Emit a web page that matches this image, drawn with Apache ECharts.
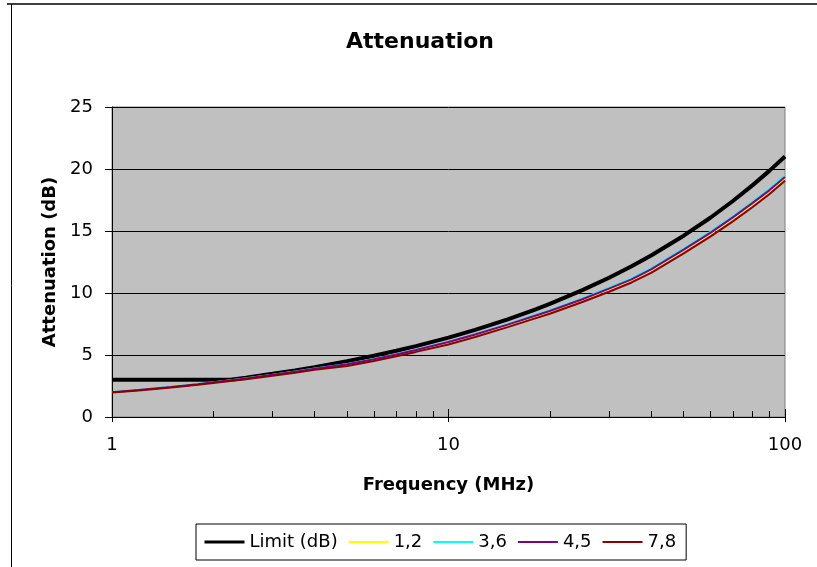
<!DOCTYPE html>
<html>
<head>
<meta charset="utf-8">
<script src="https://cdn.jsdelivr.net/npm/echarts@6/dist/echarts.min.js"></script>
<style>
  html, body { margin: 0; padding: 0; background: #fff; }
  #chart { width: 817px; height: 567px; }
</style>
</head>
<body>
<div id="chart"></div>
<script>
// frequencies (MHz)
var freqs = [1, 1.2, 1.5, 1.8, 2, 2.25, 2.5, 3, 3.5, 4, 5, 6, 7, 8, 10, 12, 15, 18, 20, 25, 30, 35, 40, 50, 60, 70, 80, 90, 100];

// attenuation (dB)
var limitDb = [3, 3, 3, 3, 3, 3.0, 3.17, 3.48, 3.76, 4.02, 4.5, 4.94, 5.34, 5.72, 6.4, 7.03, 7.87, 8.64, 9.12, 10.23, 11.23, 12.16, 13.03, 14.62, 16.07, 17.42, 18.68, 19.87, 21.0];
var pair12 = [1.99, 2.16, 2.4, 2.63, 2.78, 2.94, 3.09, 3.38, 3.64, 3.88, 4.22, 4.63, 5.01, 5.37, 6.02, 6.61, 7.41, 8.1, 8.5, 9.45, 10.3, 11.05, 11.84, 13.43, 14.78, 16.02, 17.17, 18.22, 19.27];
var pair36 = [2.01, 2.18, 2.43, 2.66, 2.81, 2.97, 3.12, 3.41, 3.67, 3.92, 4.27, 4.68, 5.06, 5.42, 6.08, 6.68, 7.49, 8.2, 8.6, 9.56, 10.42, 11.18, 11.98, 13.58, 14.93, 16.18, 17.34, 18.4, 19.45];
var pair45 = [2.0, 2.17, 2.42, 2.65, 2.8, 2.96, 3.11, 3.4, 3.66, 3.9, 4.25, 4.66, 5.04, 5.4, 6.05, 6.65, 7.45, 8.15, 8.55, 9.5, 10.35, 11.1, 11.9, 13.5, 14.85, 16.1, 17.25, 18.3, 19.35];
var pair78 = [1.97, 2.13, 2.37, 2.6, 2.74, 2.9, 3.04, 3.32, 3.57, 3.8, 4.12, 4.52, 4.9, 5.25, 5.85, 6.45, 7.25, 7.93, 8.33, 9.27, 10.1, 10.85, 11.62, 13.2, 14.55, 15.78, 16.92, 17.98, 19.05];

var seriesNames = ['Limit (dB)', '1,2', '3,6', '4,5', '7,8'];
var seriesValues = [limitDb, pair12, pair36, pair45, pair78];
var seriesColors = ['#000000', '#FFFF00', '#00FFFF', '#800080', '#8B0000'];
var seriesWidths = [4, 2, 2, 2, 2];
var legendWidths = [3, 2, 2, 2, 2];

function pairs(vals) {
  return freqs.map(function (f, i) { return [f, vals[i]]; });
}

var myChart = echarts.init(document.getElementById('chart'));

var series = seriesNames.map(function (name, i) {
  return {
    name: name,
    type: 'line',
    xAxisIndex: 0,
    symbol: 'none',
    data: pairs(seriesValues[i]),
    lineStyle: { color: seriesColors[i], width: seriesWidths[i] },
    itemStyle: { color: seriesColors[i] }
  };
});

var font = '"DejaVu Sans", sans-serif';

var option = {
  animation: false,
  backgroundColor: '#ffffff',
  title: {
    text: 'Attenuation',
    left: 341,
    top: 26,
    textStyle: { fontFamily: font, fontSize: 22, fontWeight: 'bold', color: '#000' }
  },
  legend: {
    data: seriesNames.map(function (n, i) {
      return {
        name: n,
        itemStyle: { color: 'rgba(0,0,0,0)', borderWidth: 0 },
        lineStyle: { color: seriesColors[i], width: legendWidths[i], opacity: 1 }
      };
    }),
    left: 196,
    top: 524,
    backgroundColor: '#fff',
    borderColor: '#000',
    borderWidth: 1,
    borderRadius: 0,
    padding: [9, 10, 9, 7],
    itemGap: 10,
    itemWidth: 40,
    itemHeight: 14,
    textStyle: { fontFamily: font, fontSize: 18, color: '#000' }
  },
  grid: {
    left: 112,
    right: 32,
    top: 107,
    bottom: 150,
    show: true,
    backgroundColor: '#C0C0C0',
    borderColor: '#808080',
    borderWidth: 1
  },
  xAxis: [{
    type: 'log',
    logBase: 10,
    min: 1,
    max: 100,
    name: 'Frequency (MHz)',
    nameLocation: 'middle',
    nameGap: 59,
    nameTextStyle: { fontFamily: font, fontSize: 18, fontWeight: 'bold', color: '#000' },
    axisLine: { lineStyle: { color: '#000', width: 1 } },
    axisTick: { show: true, length: 5, lineStyle: { color: '#000' } },
    axisLabel: { fontFamily: font, fontSize: 18, color: '#000', margin: 19 },
    splitLine: { show: false }
  }, {
    type: 'log',
    logBase: 10,
    min: 1,
    max: 100,
    position: 'bottom',
    axisLine: { show: false },
    axisTick: { show: true, inside: true, length: 8, lineStyle: { color: '#000' } },
    minorTick: { show: true, splitNumber: 9, length: 6, lineStyle: { color: '#000' } },
    axisLabel: { show: false },
    splitLine: { show: false }
  }],
  yAxis: {
    type: 'value',
    min: 0,
    max: 25,
    interval: 5,
    name: 'Attenuation (dB)',
    nameLocation: 'middle',
    nameGap: 53,
    nameTextStyle: { fontFamily: font, fontSize: 18, fontWeight: 'bold', color: '#000' },
    axisLine: { show: true, lineStyle: { color: '#000', width: 1 } },
    axisTick: { show: true, length: 7, lineStyle: { color: '#000' } },
    axisLabel: { fontFamily: font, fontSize: 18, color: '#000', margin: 19 },
    splitLine: { show: true, lineStyle: { color: '#000', width: 1 } }
  },
  graphic: [
    { type: 'line', shape: { x1: 7, y1: 4, x2: 817, y2: 4 }, style: { stroke: '#404040', lineWidth: 2 } },
    { type: 'line', shape: { x1: 11.5, y1: 4, x2: 11.5, y2: 567 }, style: { stroke: '#000', lineWidth: 1 } }
  ],
  series: series
};

myChart.setOption(option, true);
</script>
</body>
</html>
